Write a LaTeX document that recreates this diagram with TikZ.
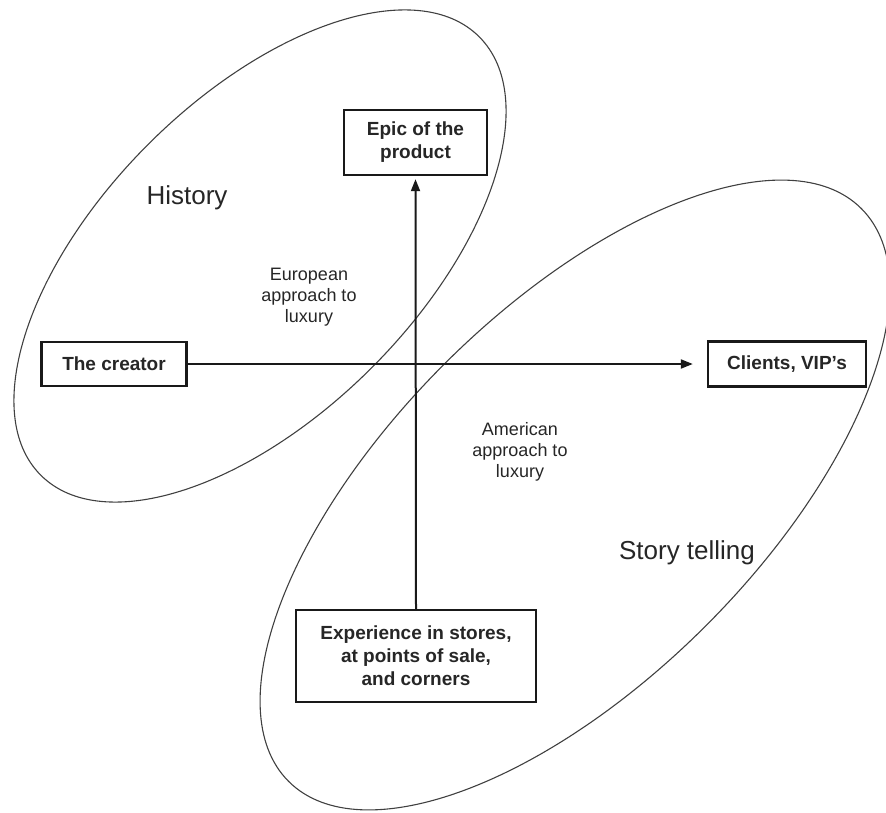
\documentclass[tikz,border=0pt]{standalone}
\usepackage{fontspec}
\setmainfont{Liberation Sans}
\usetikzlibrary{arrows.meta}
\begin{document}
\begin{tikzpicture}[x=1pt,y=-1pt,
  box/.style={draw=black!90,line width=2.4pt,fill=white,align=center,inner sep=0pt,
     font=\bfseries\fontsize{19}{23}\selectfont,text=black!85},
  lbl/.style={align=center,font=\fontsize{18}{21}\selectfont,text=black!85},
  big/.style={font=\fontsize{26}{30}\selectfont,text=black!85},
  oval/.style={draw=black!75,line width=1.1pt},
  arr/.style={line width=2pt,draw=black!90,-{Triangle[length=12pt,width=9pt]}}]
\useasboundingbox (0,0) rectangle (886,813);
% ellipses
\draw[oval,rotate around={45:(260,256)}] (260,256) ellipse [x radius=310, y radius=158];
\draw[oval,rotate around={45:(575,495)}] (575,495) ellipse [x radius=405, y radius=185];
% boxes
\node[box,minimum width=143pt,minimum height=65pt] (epic) at (415.5,142.5) {Epic of the\\product};
\node[box,minimum width=145pt,minimum height=44pt] (creator) at (114,364) {The creator};
\node[box,minimum width=158pt,minimum height=45pt] (clients) at (787,364) {Clients, VIP's};
\node[box,minimum width=240pt,minimum height=92pt] (exp) at (416,656) {Experience in stores,\\at points of sale,\\and corners};
% arrows
\draw[arr,shorten >=14pt] (creator.east) -- (clients.west);
\draw[arr,shorten >=3pt] (exp.north) -- (epic.south);
% labels
\node[big] (hist) at (187,198) {History};
\node[big] (story) at (687,553) {Story telling};
\node[lbl] (euro) at (309,297) {European\\approach to\\luxury};
\node[lbl] (amer) at (520,452) {American\\approach to\\luxury};
\end{tikzpicture}
\end{document}
